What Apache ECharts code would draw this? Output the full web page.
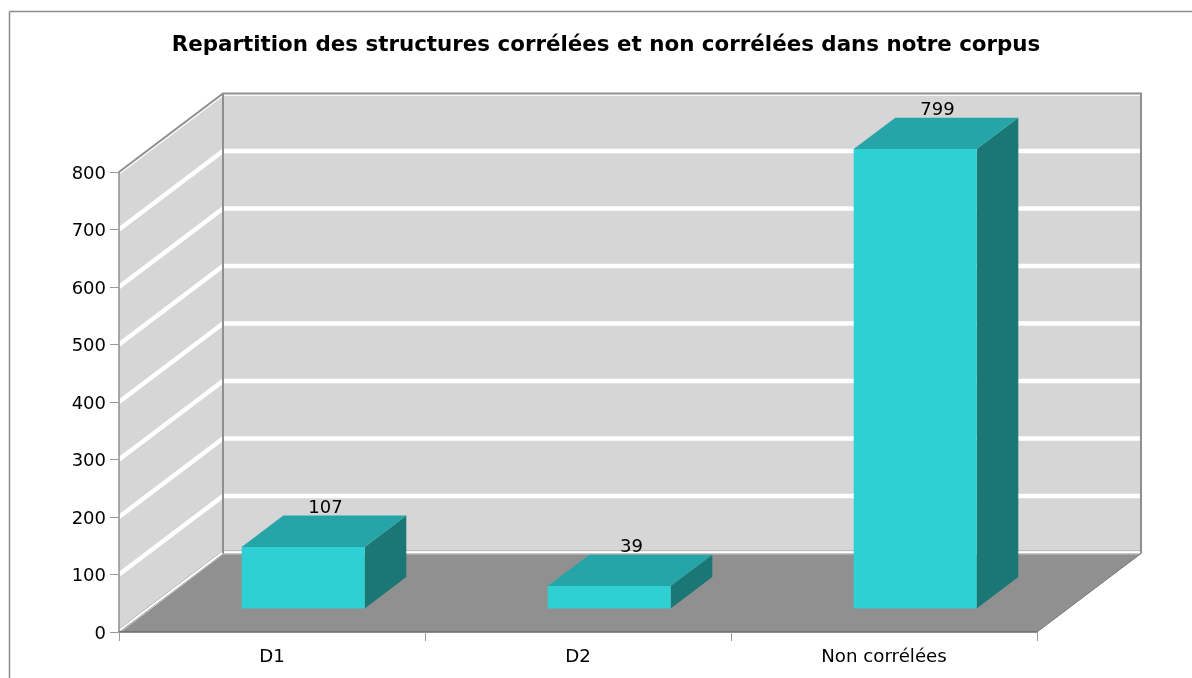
<!DOCTYPE html>
<html>
<head>
<meta charset="utf-8">
<style>html,body{margin:0;padding:0;background:#fff}#c{width:1192px;height:678px}</style>
<script src="https://cdn.jsdelivr.net/npm/echarts@6/dist/echarts.min.js"></script>
</head>
<body>
<div id="c"></div>
<script>
const titleText = 'Repartition des structures corrélées et non corrélées dans notre corpus';
const categories = ['D1', 'D2', 'Non corrélées'];
const values = [107, 39, 799];
const yTicks = [0, 100, 200, 300, 400, 500, 600, 700, 800];

const DEPTH_X = 104, DEPTH_Y = 78.5;
const BAR_FRONT = 0.3, BAR_DEPTH = 0.4, BAR_W = 0.402;
const C = {wall:'#d6d6d6', floor:'#909090', edge:'#8f8f8f', white:'#ffffff',
           front:'#2fd0d3', top:'#25a5a7', side:'#1b7775'};
const FONT = '"DejaVu Sans", sans-serif';

function poly(points, fill, z2) {
  return {type:'polygon', z2:z2||0, shape:{points}, style:{fill}};
}
function line(points, stroke, lineWidth, z2) {
  return {type:'polyline', z2:z2||0, shape:{points}, style:{stroke, lineWidth, fill:'none'}};
}

function renderWalls(params, api) {
  const g = params.coordSys;
  const L = g.x, R = g.x + g.width;
  const y0 = api.coord([0, 0])[1], yT = api.coord([0, yTicks[yTicks.length-1]])[1];
  const els = [];
  els.push(poly([[L,y0],[L+DEPTH_X,y0-DEPTH_Y],[L+DEPTH_X,yT-DEPTH_Y],[L,yT]], C.wall, 1));
  els.push(poly([[L+DEPTH_X,y0-DEPTH_Y],[R+DEPTH_X,y0-DEPTH_Y],[R+DEPTH_X,yT-DEPTH_Y],[L+DEPTH_X,yT-DEPTH_Y]], C.wall, 1));
  yTicks.forEach(v => {
    const y = api.coord([0, v])[1];
    els.push(line([[L,y],[L+DEPTH_X,y-DEPTH_Y],[R+DEPTH_X,y-DEPTH_Y]], C.white, 4.5, 2));
  });
  els.push(line([[L,y0-3],[L+DEPTH_X,y0-DEPTH_Y-3],[R+DEPTH_X,y0-DEPTH_Y-3]], '#b4b4b4', 0.8, 2));
  els.push(poly([[L,y0],[R,y0],[R+DEPTH_X,y0-DEPTH_Y],[L+DEPTH_X,y0-DEPTH_Y]], C.floor, 3));
  els.push(line([[L+3,y0-1],[L+DEPTH_X,y0-DEPTH_Y+0.5],[R+DEPTH_X,y0-DEPTH_Y+0.5]], '#c4c4c4', 1, 4));
  els.push(line([[L,yT],[L+DEPTH_X,yT-DEPTH_Y],[R+DEPTH_X,yT-DEPTH_Y],[R+DEPTH_X,y0-DEPTH_Y]], C.edge, 2, 5));
  els.push(line([[L+DEPTH_X,yT-DEPTH_Y],[L+DEPTH_X,y0-DEPTH_Y]], C.edge, 2, 5));
  els.push(line([[R,y0],[R+DEPTH_X,y0-DEPTH_Y]], '#777777', 1, 5));
  return {type:'group', children:els};
}

function renderBar(params, api) {
  const idx = api.value(0), v = api.value(1);
  const band = api.size([1, 0])[0];
  const c = api.coord([idx, 0]), t = api.coord([idx, v]);
  const w = band * BAR_W;
  const ox = DEPTH_X * BAR_FRONT, oy = DEPTH_Y * BAR_FRONT;
  const dx = DEPTH_X * BAR_DEPTH, dy = DEPTH_Y * BAR_DEPTH;
  const x1 = c[0] + ox - w/2, x2 = x1 + w;
  const yb = c[1] - oy, yt = t[1] - oy;
  return {type:'group', children:[
    poly([[x2,yb],[x2+dx,yb-dy],[x2+dx,yt-dy],[x2,yt]], C.side, 1),
    poly([[x1,yt],[x2,yt],[x2+dx,yt-dy],[x1+dx,yt-dy]], C.top, 1),
    poly([[x1,yb],[x2,yb],[x2,yt],[x1,yt]], C.front, 2),
    {type:'text', z2:3, style:{text:String(v), x:(x1+x2+dx)/2+1.5, y:yt-dy+1.5,
      align:'center', verticalAlign:'bottom', fill:'#000', font:'18px '+FONT}}
  ]};
}

const chart = echarts.init(document.getElementById('c'), null, {renderer:'canvas'});
chart.setOption({
  animation:false,
  backgroundColor:'#fff',
  title:{text:titleText, left:601, top:30, textAlign:'center',
    textStyle:{fontFamily:FONT, fontWeight:'bold', fontSize:21.4, color:'#000'}},
  grid:{left:119, top:172, width:918, height:460},
  xAxis:{type:'category', data:categories, z:6,
    axisLine:{lineStyle:{color:'#6a6a6a', width:1.5}},
    axisTick:{show:true, alignWithLabel:false, length:9, lineStyle:{color:'#999'}},
    axisLabel:{interval:0, margin:16, color:'#000', fontFamily:FONT, fontSize:18.2}},
  yAxis:{type:'value', min:yTicks[0], max:yTicks[yTicks.length-1], interval:100, z:6,
    splitLine:{show:false},
    axisLine:{show:true, lineStyle:{color:'#8f8f8f', width:1.5}},
    axisTick:{show:true, length:9, lineStyle:{color:'#999'}},
    axisLabel:{margin:13, verticalAlign:'top', lineHeight:4, color:'#000', fontFamily:FONT, fontSize:18}},
  graphic:[
    {type:'line', z:0, shape:{x1:9.5,y1:11.5,x2:1192,y2:11.5}, style:{stroke:'#8c8c8c',lineWidth:1.5}},
    {type:'line', z:0, shape:{x1:9.5,y1:11.5,x2:9.5,y2:678}, style:{stroke:'#8c8c8c',lineWidth:1.5}}
  ],
  series:[
    {type:'custom', z:1, silent:true, renderItem:renderWalls, data:[[0]], encode:{x:0}},
    {type:'custom', z:3, silent:true, renderItem:renderBar,
     data:values.map((v,i)=>[i,v]), encode:{x:0,y:1}}
  ]
});
</script>
</body>
</html>
